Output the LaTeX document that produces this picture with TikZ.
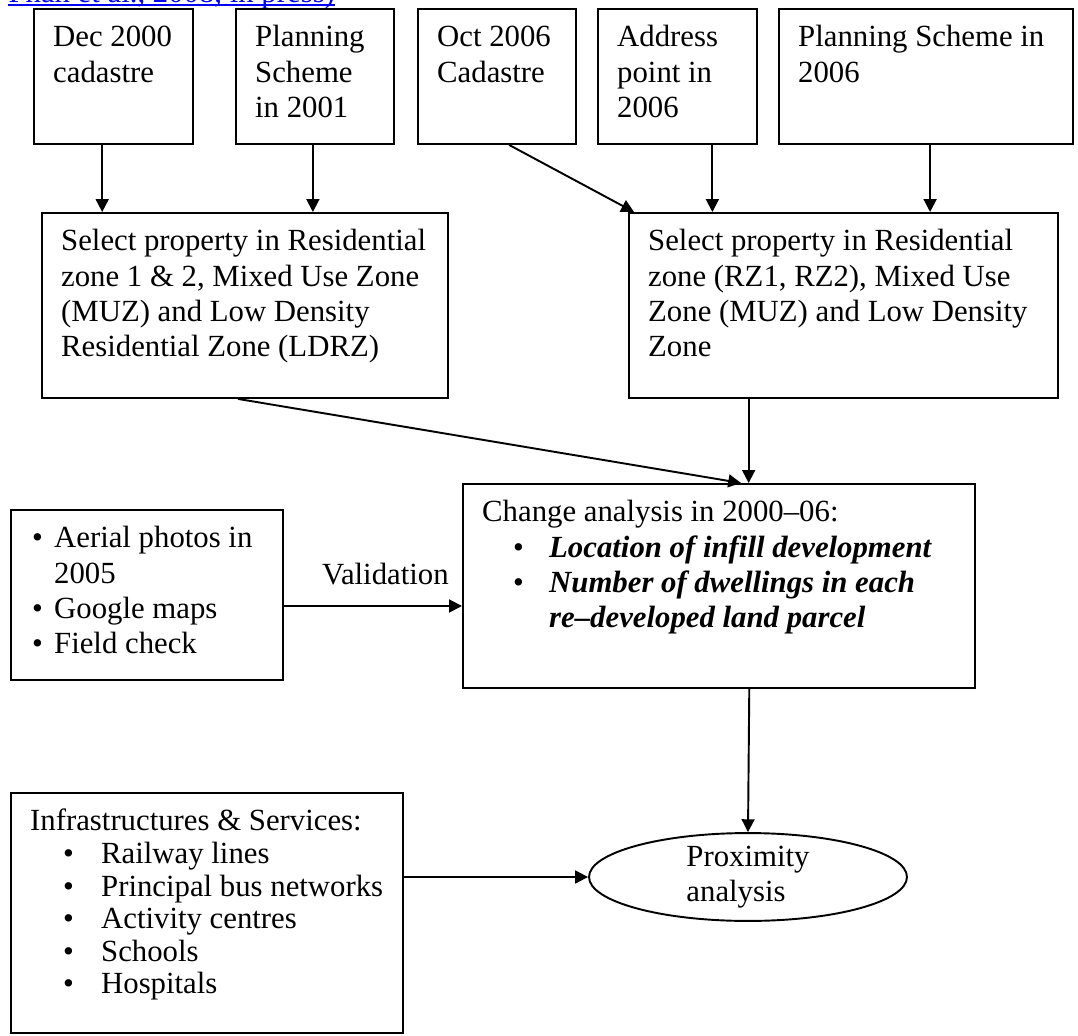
\documentclass[tikz,border=0pt]{standalone}
\usepackage{fontspec}
\setmainfont{Liberation Serif}
\usetikzlibrary{positioning,arrows.meta,calc,shapes.geometric}
\definecolor{linkblue}{HTML}{0000FF}
\newlength{\pxu}\setlength{\pxu}{0.39pt}
% text block of a box: width, height (px), contents
\newcommand{\boxtext}[3]{\parbox[c][\dimexpr#2\pxu-8pt\relax][t]{#1\pxu}{%
  \leftskip=7.5pt\rightskip=0pt plus 1fil\parindent=0pt\rule{0pt}{10.8pt}#3}}
% bullet item: bullet offset, text offset (px), text
\newcommand{\itm}[3]{\hspace*{#1\pxu}\makebox[\dimexpr#2\pxu-#1\pxu\relax][l]{\textbullet}#3}

\begin{document}
\begin{tikzpicture}[x=0.39pt,y=-0.39pt,
    box/.style={draw,line width=0.75pt,inner xsep=0pt,inner ysep=4pt,anchor=north west,
      font=\fontsize{12}{13.7}\selectfont},
    arr/.style={-{Triangle[length=5pt,width=5pt]},line width=0.75pt}]
  \useasboundingbox (0,0) rectangle (1078,1036);

  \node[anchor=base west,inner sep=0pt,text=linkblue,font=\fontsize{12}{13.7}\selectfont]
    (cite) at (8,2.5) {Phan et al., 2008, in press)};
  \draw[linkblue,line width=0.8pt] ([yshift=-1pt]cite.base west) -- ([yshift=-1pt]cite.base east);

  % sources
  \node[box] (dec) at (33,8) {\boxtext{159}{135}{Dec 2000\\cadastre}};
  \node[box] (plan01) at (235,8) {\boxtext{158}{135}{Planning\\Scheme\\in 2001}};
  \node[box] (oct06) at (417,8) {\boxtext{158}{135}{Oct 2006\\Cadastre}};
  \node[box] (addr) at (597,8) {\boxtext{159}{135}{Address\\point in\\2006}};
  \node[box] (plan06) at (778,8) {\boxtext{294}{135}{Planning Scheme in\\2006}};

  % selection
  \node[box] (selL) at (41,212) {\boxtext{406}{185}{Select property in Residential\\
    zone 1 \& 2, Mixed Use Zone\\(MUZ) and Low Density\\Residential Zone (LDRZ)}};
  \node[box] (selR) at (628,212) {\boxtext{429}{185}{Select property in Residential\\
    zone (RZ1, RZ2), Mixed Use\\Zone (MUZ) and Low Density\\Zone}};

  % analysis
  \node[box] (val) at (10,509) {\boxtext{272}{170}{\itm{2}{24}{Aerial photos in}\\
    \hspace*{24\pxu}2005\\\itm{2}{24}{Google maps}\\\itm{2}{24}{Field check}}};
  \node[box] (chg) at (462,483) {\boxtext{512}{204}{Change analysis in 2000--06:\\
    \itm{31}{67}{\textbf{\textit{Location of infill development}}}\\
    \itm{31}{67}{\textbf{\textit{Number of dwellings in each}}}\\
    \hspace*{67\pxu}\textbf{\textit{re--developed land parcel}}}};
  \node[box,font=\fontsize{12}{12.7}\selectfont] (infra) at (10,792) {\boxtext{392}{240}{%
    Infrastructures \& Services:\\\itm{33}{71}{Railway lines}\\
    \itm{33}{71}{Principal bus networks}\\\itm{33}{71}{Activity centres}\\
    \itm{33}{71}{Schools}\\\itm{33}{71}{Hospitals}}};
  \node[draw,ellipse,line width=0.75pt,minimum width=124pt,minimum height=30.4pt,
    inner sep=0pt,align=left,font=\fontsize{12}{13.7}\selectfont] (prox) at (748,877)
    {Proximity\\analysis};

  % connectors
  \coordinate (decout) at ($(dec.south west)!0.43!(dec.south east)$);
  \coordinate (plan01out) at ($(plan01.south west)!0.487!(plan01.south east)$);
  \coordinate (oct06out) at ($(oct06.south west)!0.576!(oct06.south east)$);
  \coordinate (addrout) at ($(addr.south west)!0.717!(addr.south east)$);
  \coordinate (plan06out) at ($(plan06.south west)!0.514!(plan06.south east)$);
  \coordinate (selLout) at ($(selL.south west)!0.483!(selL.south east)$);
  \coordinate (selRout) at ($(selR.south west)!0.28!(selR.south east)$);
  \coordinate (valout) at ([yshift=-4.3pt]val.east);
  \coordinate (chgout) at ($(chg.south west)!0.559!(chg.south east)$);
  \draw[arr] (decout) -- (decout |- selL.north);
  \draw[arr] (plan01out) -- (plan01out |- selL.north);
  \draw[arr] (oct06out) -- ($(selR.north west)!0.014!(selR.north east)$);
  \draw[arr] (addrout) -- (addrout |- selR.north);
  \draw[arr] (plan06out) -- (plan06out |- selR.north);
  \draw[arr] (selLout) -- ($(chg.north west)!0.543!(chg.north east)$);
  \draw[arr] (selRout) -- (selRout |- chg.north);
  \draw[arr] (valout) -- (valout -| chg.west) node[pos=0.57,above=8pt,inner sep=0pt,
    font=\fontsize{12}{13.7}\selectfont] {Validation};
  \draw[arr] (chgout) -- (prox.north);
  \draw[arr] (infra.east |- prox.west) -- (prox.west);
\end{tikzpicture}
\end{document}
